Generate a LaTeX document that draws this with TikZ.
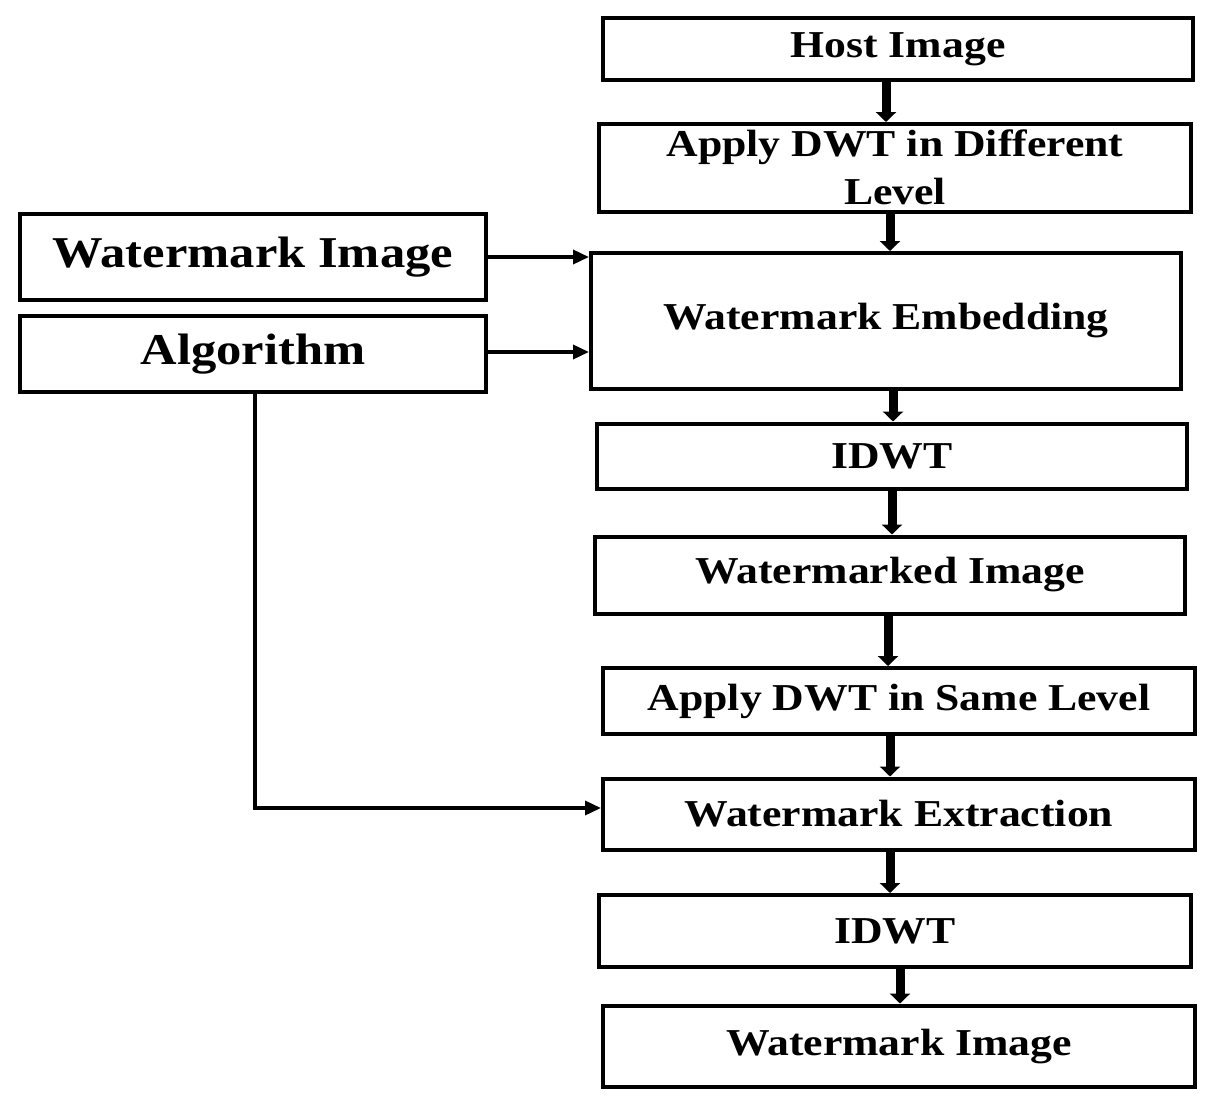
\documentclass[tikz,border=0pt]{standalone}
\usepackage{fontspec}
\setmainfont{Liberation Serif}[FakeStretch=1.15]
\usetikzlibrary{arrows.meta}
\begin{document}
\begin{tikzpicture}[x=1pt,y=-1pt,
 box/.style={draw,line width=4pt,inner sep=0pt,font=\bfseries\fontsize{38}{40}\selectfont,align=center},
 big/.style={font=\bfseries\fontsize{44}{48}\selectfont},
 va/.style={line width=9pt,-{Triangle[width=20pt,length=10pt]}},
 ha/.style={line width=3.5pt,-{Triangle[width=14pt,length=16pt]}}]
\useasboundingbox (0,0) rectangle (1210,1108);
\node[box,minimum width=590,minimum height=62] (host) at (898,49) {Host Image};
\node[box,minimum width=592,minimum height=88] (dwt) at (895,168) {};
\node[font=\bfseries\fontsize{38}{40}\selectfont] at (895,147) {Apply DWT in Different};
\node[font=\bfseries\fontsize{38}{40}\selectfont] at (895,192) {Level};
\node[box,big,minimum width=466,minimum height=86] (wmi) at (253,257) {Watermark Image};
\node[box,big,minimum width=466,minimum height=76] (alg) at (253,354) {Algorithm};
\node[box,minimum width=590,minimum height=136] (emb) at (886,321) {Watermark Embedding};
\node[box,minimum width=590,minimum height=65] (idwt1) at (892,456) {IDWT};
\node[box,minimum width=590,minimum height=77] (wmd) at (890,575) {Watermarked Image};
\node[box,minimum width=592,minimum height=66] (same) at (899,701) {Apply DWT in Same Level};
\node[box,minimum width=592,minimum height=71] (ext) at (899,814) {Watermark Extraction};
\node[box,minimum width=592,minimum height=72] (idwt2) at (895,931) {IDWT};
\node[box,minimum width=592,minimum height=81] (out) at (899,1046) {Watermark Image};
\draw[va] (host.south -| 886,0) -- (dwt.north -| 886,0);
\draw[va] (dwt.south -| 890,0) -- (emb.north -| 890,0);
\draw[va] (emb.south -| 893,0) -- (idwt1.north -| 893,0);
\draw[va] (idwt1.south -| 892,0) -- (wmd.north -| 892,0);
\draw[va] (wmd.south -| 888,0) -- (same.north -| 888,0);
\draw[va] (same.south -| 890,0) -- (ext.north -| 890,0);
\draw[va] (ext.south -| 890,0) -- (idwt2.north -| 890,0);
\draw[va] (idwt2.south -| 900,0) -- (out.north -| 900,0);
\draw[ha] (wmi.east |- 0,257) -- (emb.west |- 0,257);
\draw[ha] (alg.east |- 0,352) -- (emb.west |- 0,352);
\draw[ha] (alg.south -| 255,0) -- (255,808) -- (ext.west |- 0,808);
\end{tikzpicture}
\end{document}
